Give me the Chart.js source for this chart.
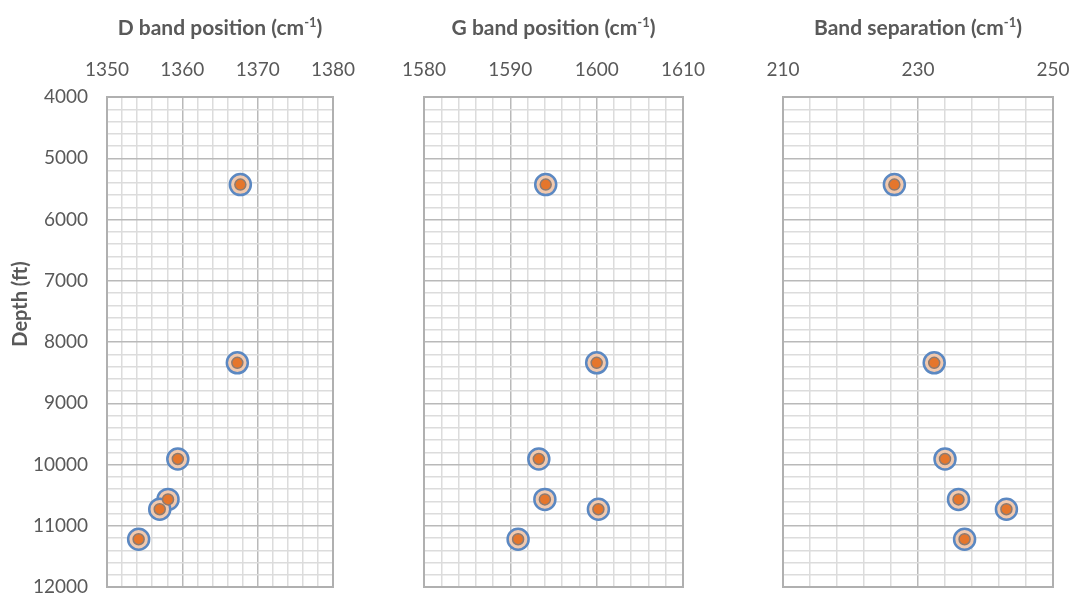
<!DOCTYPE html>
<html>
<head>
<meta charset="utf-8">
<script src="https://cdn.jsdelivr.net/npm/chart.js@4.4.1/dist/chart.umd.min.js"></script>
<style>
  html, body { margin: 0; padding: 0; background: #ffffff; }
  #wrap { position: relative; width: 1072px; height: 594px; overflow: hidden; }
  #wrap canvas { position: absolute; left: 0; top: 0; }
</style>
</head>
<body>
<div id="wrap">
  <canvas id="pD" width="1072" height="594"></canvas>
  <canvas id="pG" width="1072" height="594"></canvas>
  <canvas id="pS" width="1072" height="594"></canvas>
</div>
<script>
// Sample depths (ft) and Raman band results
const depths = [5430, 8340, 9910, 10570, 10730, 11220];
const dBand = [1367.7, 1367.3, 1359.4, 1358.1, 1357.0, 1354.2];
const gBand = [1594.1, 1600.0, 1593.3, 1594.0, 1600.2, 1590.9];
const separation = [226.5, 232.4, 234.0, 236.0, 243.1, 236.9];

// Panel headings and axis text
const panelTitles = ['D band position', 'G band position', 'Band separation'];
const unitText = '(cm';
const unitSup = '-1';
const depthTitle = 'Depth (ft)';

// Axis ranges: [min, max, minor step, labelled step]
const dRange = [1350, 1380, 2, 10];
const gRange = [1580, 1610, 2, 10];
const sRange = [210, 250, 4, 20];
const depthRange = [4000, 12000, 200, 1000];

const TEXT = '#595959';
const MAJOR = '#b9b9b9';
const MINOR = '#dcdcdc';
const FONT = 'Lato, "Open Sans", sans-serif';

function onStep(v, base, step) {
  const r = Math.abs((v - base) / step);
  return Math.abs(r - Math.round(r)) < 1e-6;
}

// keep the plot rectangle where the axes put it, ignoring label overhang
function noOverhang(scale) {
  scale.paddingTop = 0;
  scale.paddingBottom = 0;
  scale.paddingLeft = 0;
  scale.paddingRight = 0;
}

const headingPlugin = {
  id: 'heading',
  afterDraw(chart, args, opts) {
    const ctx = chart.ctx;
    const a = chart.chartArea;
    ctx.save();
    ctx.fillStyle = TEXT;
    ctx.textBaseline = 'alphabetic';
    const big = 'bold 21px ' + FONT;
    const small = 'bold 13px ' + FONT;
    const main = opts.title + ' ' + unitText;
    ctx.font = big;
    const w1 = ctx.measureText(main).width;
    const wClose = ctx.measureText(')').width;
    ctx.font = small;
    const wSup = ctx.measureText(unitSup).width;
    const total = w1 + wSup + wClose;
    let x = (a.left + a.right) / 2 - total / 2;
    const y = 35;
    ctx.textAlign = 'left';
    ctx.font = big;
    ctx.fillText(main, x, y);
    x += w1;
    ctx.font = small;
    ctx.fillText(unitSup, x, y - 8);
    x += wSup;
    ctx.font = big;
    ctx.fillText(')', x, y);
    if (opts.depthTitle) {
      ctx.translate(21, 304);
      ctx.rotate(-Math.PI / 2);
      ctx.textAlign = 'center';
      ctx.textBaseline = 'middle';
      ctx.font = 'bold 20px ' + FONT;
      ctx.fillText(depthTitle, 0, 0);
    }
    ctx.restore();
  }
};

const framePlugin = {
  id: 'frame',
  afterDraw(chart) {
    const a = chart.chartArea;
    const ctx = chart.ctx;
    ctx.save();
    ctx.strokeStyle = '#b0b0b0';
    ctx.lineWidth = 2;
    ctx.strokeRect(a.left, a.top, a.right - a.left, a.bottom - a.top);
    ctx.restore();
  }
};

function makePanel(id, values, range, title, left, right, showDepth) {
  const pts = values.map((v, i) => ({ x: v, y: depths[i] }));
  return new Chart(document.getElementById(id), {
    type: 'scatter',
    data: {
      datasets: [
        {
          data: pts,
          order: 0,
          pointRadius: 5.5,
          pointHoverRadius: 5.5,
          pointBackgroundColor: '#e5762c',
          pointBorderColor: '#8d7b72',
          pointBorderWidth: 1.5
        },
        {
          data: pts,
          order: 1,
          pointRadius: 10.5,
          pointHoverRadius: 10.5,
          pointBackgroundColor: '#f1c9ae',
          pointBorderColor: '#5b88c2',
          pointBorderWidth: 2.5
        }
      ]
    },
    options: {
      responsive: false,
      animation: false,
      devicePixelRatio: 1,
      layout: { autoPadding: false, padding: { left: 0, right: 1072 - right, top: 0, bottom: 594 - 587 } },
      plugins: {
        legend: { display: false },
        tooltip: { enabled: false },
        heading: { title: title, depthTitle: showDepth }
      },
      scales: {
        x: {
          type: 'linear',
          position: 'top',
          min: range[0],
          max: range[1],
          afterBuildTicks(scale) {
            const t = [];
            for (let v = range[0]; v <= range[1] + 1e-9; v += range[2]) t.push({ value: v });
            scale.ticks = t;
          },
          afterFit(scale) { scale.height = 97; noOverhang(scale); },
          ticks: {
            autoSkip: false,
            maxRotation: 0,
            color: TEXT,
            font: { family: FONT, size: 19 },
            padding: 16,
            callback: (v) => onStep(v, range[0], range[3]) ? String(v) : ''
          },
          grid: {
            drawTicks: false,
            lineWidth: 1.5,
            color: (c) => (c.tick && onStep(c.tick.value, range[0], range[3])) ? MAJOR : MINOR
          },
          border: { display: true, color: '#b0b0b0', width: 2 }
        },
        y: {
          type: 'linear',
          position: 'left',
          reverse: true,
          min: depthRange[0],
          max: depthRange[1],
          afterBuildTicks(scale) {
            const t = [];
            for (let v = depthRange[0]; v <= depthRange[1]; v += depthRange[2]) t.push({ value: v });
            scale.ticks = t;
          },
          afterFit(scale) { scale.width = left; noOverhang(scale); },
          ticks: {
            display: showDepth,
            autoSkip: false,
            color: TEXT,
            font: { family: FONT, size: 19 },
            padding: 19,
            callback: (v) => (v % depthRange[3] === 0) ? String(v) : ''
          },
          grid: {
            drawTicks: false,
            lineWidth: 1.5,
            color: (c) => (c.tick && c.tick.value % depthRange[3] === 0) ? MAJOR : MINOR
          },
          border: { display: true, color: '#b0b0b0', width: 2 }
        }
      }
    },
    plugins: [headingPlugin, framePlugin]
  });
}

makePanel('pD', dBand, dRange, panelTitles[0], 107, 333, true);
makePanel('pG', gBand, gRange, panelTitles[1], 424, 683, false);
makePanel('pS', separation, sRange, panelTitles[2], 783, 1053, false);
</script>
</body>
</html>
